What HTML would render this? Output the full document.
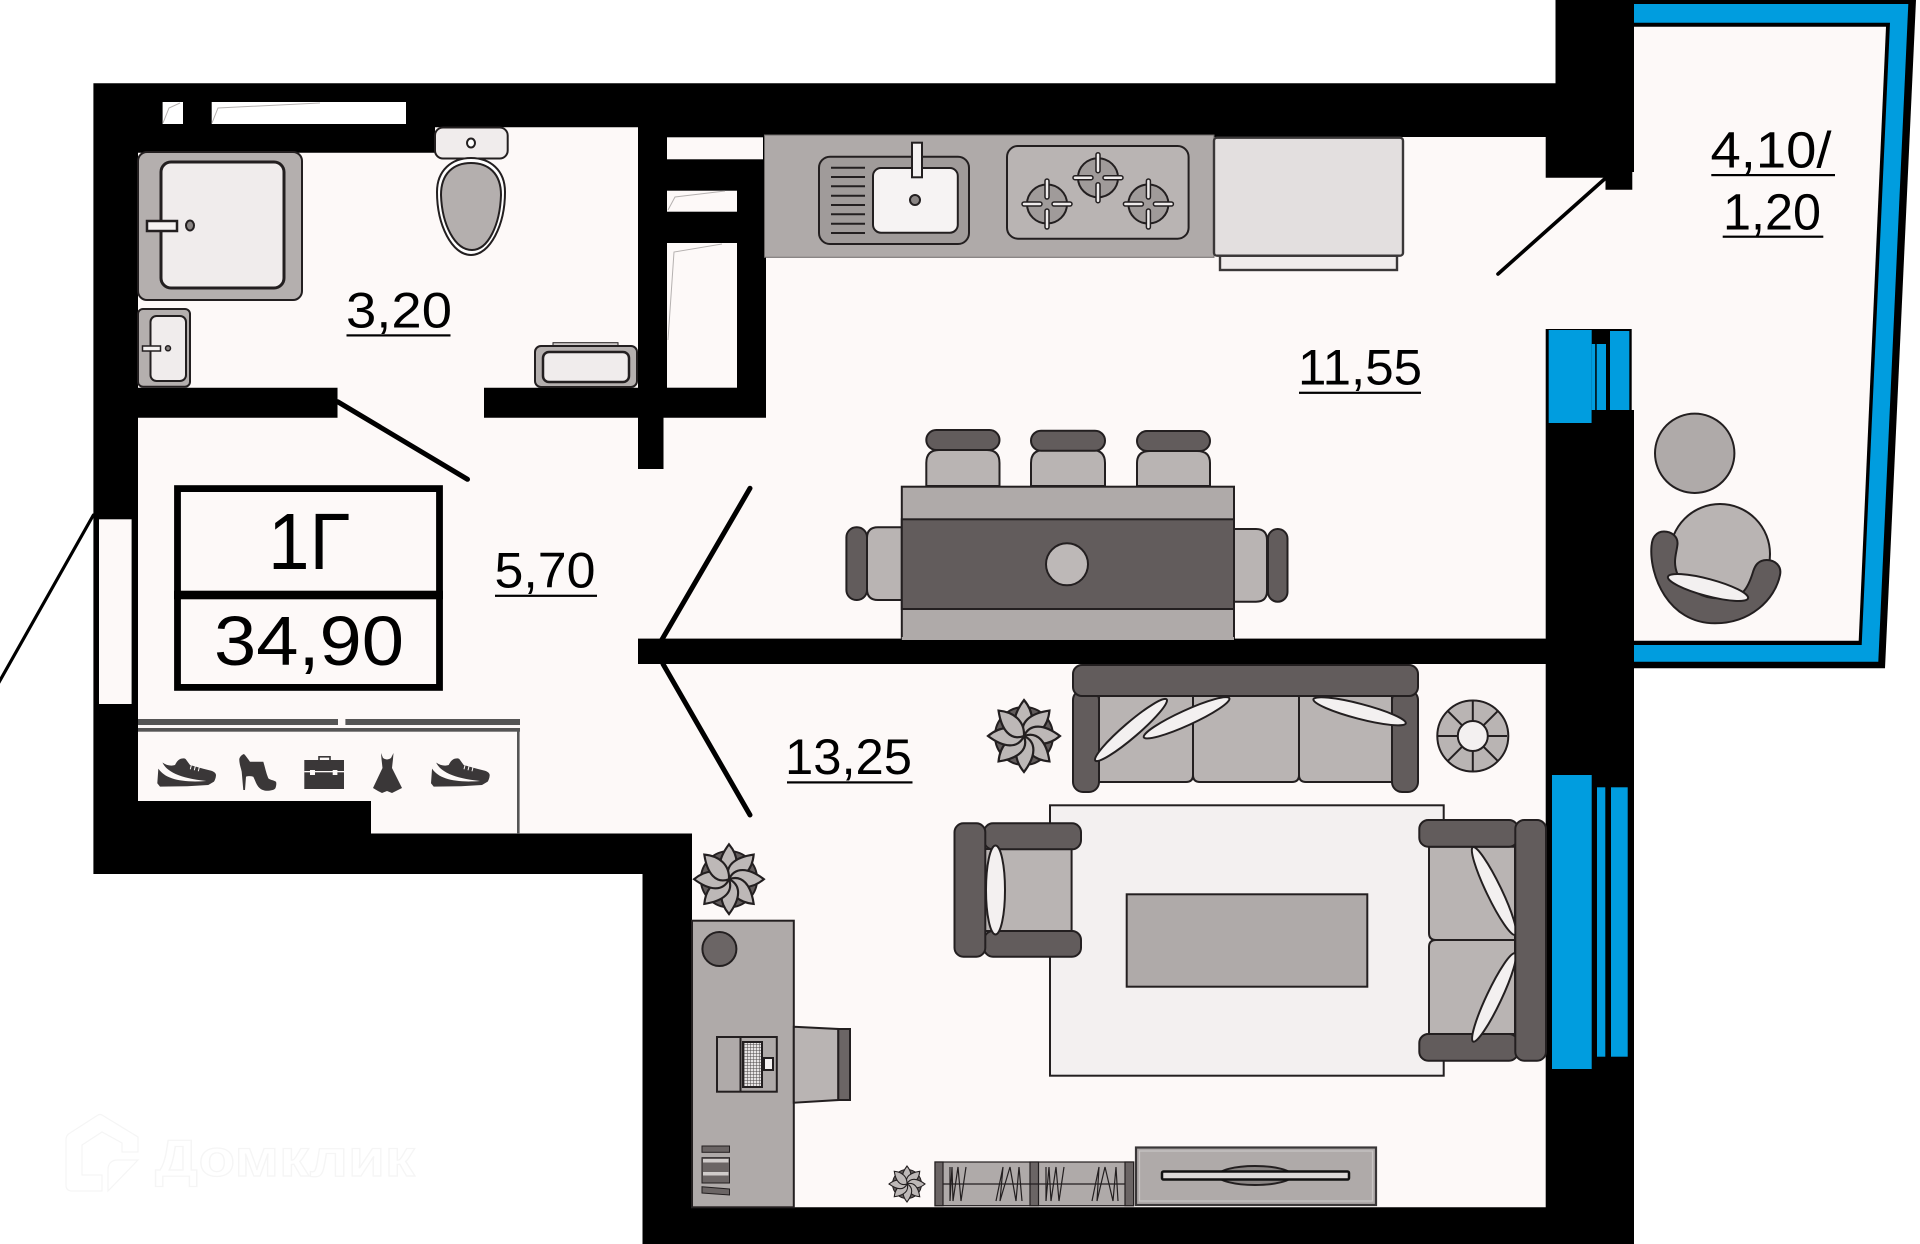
<!DOCTYPE html>
<html lang="ru"><head><meta charset="utf-8"><title>1Г 34,90</title>
<style>html,body{margin:0;padding:0;background:#fff;width:1920px;height:1244px;overflow:hidden}svg{display:block}text{font-family:"Liberation Sans",sans-serif;fill:#000}</style></head>
<body>
<svg xmlns="http://www.w3.org/2000/svg" width="1920" height="1244" viewBox="0 0 1920 1244">
<defs>
<g id="plant">
<circle r="29" fill="#625c5c" stroke="#231f20" stroke-width="2"/>
<g fill="#bdb8b7" stroke="#231f20" stroke-width="2.2" stroke-linejoin="miter">
<path id="pt" d="M0,0 C-13,-6 -12,-20 0,-36 C10,-24 11,-10 0,0Z"/>
<use href="#pt" transform="rotate(45)"/><use href="#pt" transform="rotate(90)"/><use href="#pt" transform="rotate(135)"/>
<use href="#pt" transform="rotate(180)"/><use href="#pt" transform="rotate(225)"/><use href="#pt" transform="rotate(270)"/><use href="#pt" transform="rotate(315)"/>
</g></g>
<g id="burner">
<ellipse rx="20" ry="19.5" fill="#a09b9a" stroke="#231f20" stroke-width="2"/>
<g fill="#efecec" stroke="#231f20" stroke-width="1.5">
<rect x="-2" y="-25" width="4" height="20" rx="2"/><rect x="-2" y="5" width="4" height="20" rx="2"/>
<rect x="-25" y="-2" width="20" height="4" rx="2"/><rect x="5" y="-2" width="20" height="4" rx="2"/></g>
</g>
<g id="sneaker">
<path fill="#3a3738" d="M5.3,4.3 C9,7 14,8 17.7,6.7 C19,4 21,1 24,0.3 C26,-0.2 28,0 28.5,1 L32.7,6.7 L46,10.5 L54,12.5 C57,13.5 58.7,15 58.7,17 C58.5,20 57.5,22 56.7,23.3 L51,26.7 L30,28 L2.7,28.3 L0,25 L1,11Z"/>
<path fill="#fdf9f8" d="M5,4 C9,13 22,20 49,22.7 C25,24.5 8,21 1.2,10.5 Z"/>
<path stroke="#fdf9f8" stroke-width="1" d="M34,7 L33,11M38,8 L37,12M42,9 L41,13"/>
</g>
<pattern id="kb" width="3" height="3" patternUnits="userSpaceOnUse"><rect width="3" height="3" fill="#e8e5e5"/><path d="M0,0H3M0,0V3" stroke="#4a4646" stroke-width="1"/></pattern>
</defs>

<rect width="1920" height="1244" fill="#fff"/>

<!-- balcony -->
<polygon points="1630,0 1916,0 1885,668.3 1630,668.3" fill="#000"/>
<polygon points="1630,4 1908.3,4 1878.3,661.7 1630,661.7" fill="#009ddf"/>
<polygon points="1630,22.7 1890,22.7 1861.7,645 1630,645" fill="#000"/>
<polygon points="1630,26.7 1886,26.7 1858.7,640.7 1630,640.7" fill="#fdf9f8"/>

<!-- main walls -->
<polygon points="93.4,83.3 1555.5,83.3 1555.5,0 1634,0 1634,1244 642.5,1244 642.5,874 93.4,874" fill="#000"/>

<!-- rooms -->
<g fill="#fdf9f8">
<polygon points="138,152.7 435,152.7 435,127.3 638,127.3 638,387.7 138,387.7"/>
<polygon points="138,417.7 337.6,417.7 337.6,387.7 484,387.7 484,417.7 638,417.7 638,469 663.5,469 663.5,417.7 766,417.7 766,137 1545.7,137 1545.7,177.7 1605.5,177.7 1605.5,189.7 1632.3,189.7 1632.3,172 1636,172 1636,329 1545.7,329 1545.7,638.7 638,638.7 638,664 1545.7,664 1545.7,1207.3 692,1207.3 692,833.5 371,833.5 371,801 138,801"/>
<rect x="337.6" y="380" width="146.4" height="42"/>
<rect x="99" y="519.3" width="32.6" height="184.7"/>
<rect x="667" y="137.3" width="96" height="22"/>
<rect x="667" y="190.7" width="70" height="21"/>
<rect x="667" y="243" width="70" height="144.7"/>
</g>
<rect x="162.6" y="102" width="20.4" height="22" fill="#fff"/>
<rect x="211.7" y="102" width="194.3" height="22" fill="#fff"/>
<g fill="none" stroke="#b5b1b0" stroke-width="1">
<path d="M163,123 L169,108 L180,103"/><path d="M212,123 L218,108 L320,103"/>
<path d="M668,210 L675,197 L725,191"/><path d="M668,340 L674,252 L722,244"/>
</g>

<!-- window kitchen/balcony -->
<rect x="1547.7" y="329" width="84" height="94" fill="#000"/>
<rect x="1631.7" y="329" width="4" height="81" fill="#fdf9f8"/>
<rect x="1548.7" y="330" width="43" height="93" fill="#009ddf"/>
<rect x="1591.7" y="344" width="3.5" height="66" fill="#009ddf"/>
<rect x="1596.7" y="344" width="9.3" height="66" fill="#009ddf"/>
<rect x="1610" y="331" width="19.3" height="79" fill="#009ddf"/>
<rect x="1591.7" y="410" width="42.3" height="14" fill="#000"/>

<!-- window living -->
<rect x="1552" y="775" width="39.7" height="294" fill="#009ddf"/>
<rect x="1597" y="787.3" width="8.3" height="269.4" fill="#009ddf"/>
<rect x="1611" y="787.3" width="16.7" height="269.4" fill="#009ddf"/>

<!-- doors -->
<g stroke="#000" fill="none" stroke-linecap="round">
<line x1="337.6" y1="401.7" x2="467.5" y2="479.3" stroke-width="5"/>
<line x1="750" y1="488.3" x2="661.7" y2="640" stroke-width="5"/>
<line x1="663" y1="664" x2="750" y2="815" stroke-width="5"/>
<line x1="1605" y1="178.6" x2="1498" y2="274" stroke-width="3.6"/>
<line x1="93.4" y1="515" x2="-2" y2="684" stroke-width="3.2"/>
</g>

<!-- balcony furniture -->
<g stroke="#231f20" stroke-width="2">
<circle cx="1694.7" cy="453.3" r="39.7" fill="#afaaa9"/>
<circle cx="1720" cy="554" r="50" fill="#b9b4b3"/>
<path d="M1664,531.5 C1656,531.5 1652,538 1651.5,546 C1649,575 1668,623.3 1715,623.3 C1750,623.3 1775,600 1780,575 C1782,566 1775,560 1766.7,560 C1758,560 1755,566 1753.3,571 C1750,582 1747,588 1743,592 C1730,598 1725,598 1715,598 C1700,595 1690,590 1685,587 C1678,578 1675,570 1675,562 C1675,555 1677,550 1677.5,544 C1678,536 1671,531.5 1664,531.5Z" fill="#625c5c"/>
<path d="M1692,590 C1705,600 1720,600 1730,596Z" fill="#b9b4b3" stroke-width="1.2"/>
<ellipse cx="1708" cy="587.5" rx="41.5" ry="8.5" transform="rotate(15 1708 587.5)" fill="#f3f0f0"/>
</g>

<!-- bath -->
<g stroke="#231f20" stroke-width="2">
<rect x="138" y="152" width="164" height="148" rx="9" fill="#b4afae"/>
<rect x="161" y="162" width="123" height="126" rx="10" fill="#f0ecec" stroke-width="3"/>
<rect x="147" y="221" width="30" height="10" fill="#f5f2f2" stroke-width="2.5"/>
<ellipse cx="190" cy="225.5" rx="4" ry="5" fill="#8a8584" stroke-width="2"/>
<rect x="138" y="309" width="52" height="77.7" rx="5" fill="#b4afae"/>
<rect x="150.5" y="316" width="35.5" height="65" rx="6" fill="#f0ecec"/>
<rect x="142.5" y="346" width="18" height="5" fill="#f5f2f2" stroke-width="1.5"/>
<circle cx="168" cy="348.3" r="2.5" fill="#8a8584" stroke-width="1.5"/>
<rect x="435" y="127.5" width="72.7" height="31" rx="8" fill="#f0ecec"/>
<ellipse cx="471" cy="143" rx="4" ry="4.5" fill="#fff"/>
<path d="M471,158 C490,158 505,170 505,192 C505,225 490,255 471,255 C452,255 437,225 437,192 C437,170 452,158 471,158Z" fill="#fff"/>
<path d="M471,163 C488,163 501,173 501,195 C500,225 488,250 472,250 C455,250 442,225 441,195 C441,173 454,163 471,163Z" fill="#b4afae" stroke-width="2"/>
<rect x="553" y="342.7" width="65" height="4" fill="#d0cccb" stroke-width="1"/>
<rect x="535" y="346" width="102" height="41" rx="6" fill="#b4afae"/>
<rect x="543" y="352" width="86" height="30" rx="6" fill="#f0ecec" stroke-width="2.5"/>
</g>

<!-- kitchen -->
<rect x="764.5" y="135" width="449.5" height="122.3" fill="#afaaa9" stroke="#6e6a69" stroke-width="1"/>
<g stroke="#231f20" stroke-width="2">
<rect x="819" y="156.7" width="150" height="87.3" rx="11" fill="#a09b9a"/>
<rect x="873" y="168" width="84.8" height="64.7" rx="8" fill="#f6f3f3"/>
<ellipse cx="915" cy="200" rx="5" ry="5" fill="#8a8584"/>
<rect x="912" y="142.7" width="10" height="34.6" fill="#f5f2f2"/>
<path d="M831,167.7H865M831,177H865M831,186.3H865M831,195.7H865M831,205H865M831,214.3H865M831,223.7H865M831,233H865" fill="none"/>
<rect x="1007" y="146" width="181.6" height="92.7" rx="11" fill="#b9b4b3"/>
</g>
<use href="#burner" x="1047" y="204"/><use href="#burner" x="1098" y="177.7"/><use href="#burner" x="1148.4" y="204"/>
<g stroke="#3a3738" stroke-width="2.4">
<rect x="1220" y="255.7" width="177" height="14.3" fill="#f0ecec"/>
<rect x="1214" y="137.7" width="189" height="118" rx="3" fill="#e3dfdf"/>
</g>

<!-- dining -->
<g stroke="#231f20" stroke-width="2">
<g fill="#b9b4b3">
<path d="M926.3,486 V463 Q926.3,450 939,450 H987 Q999.5,450 999.5,463 V486Z"/>
<path d="M1031,486 V463 Q1031,450 1044,450 H1092 Q1105,450 1105,463 V486Z"/>
<path d="M1137,486 V463 Q1137,451 1150,451 H1197 Q1210,451 1210,463 V486Z"/>
<path d="M902,527.3 H878 Q867,527.3 867,538 V589 Q867,600 878,600 H902Z"/>
<path d="M1234,529 H1256 Q1267,529 1267,540 V591 Q1267,601.7 1256,601.7 H1234Z"/>
</g>
<g fill="#625c5c">
<rect x="926.3" y="430" width="73.2" height="20" rx="10"/>
<rect x="1031" y="430.7" width="74" height="20" rx="10"/>
<rect x="1137" y="431" width="73" height="20" rx="10"/>
<rect x="846.4" y="527.3" width="20.6" height="72.7" rx="10"/>
<rect x="1268" y="529" width="19.5" height="72.7" rx="9.7"/>
</g>
<rect x="901.8" y="486.7" width="332.2" height="153" fill="#afaaa9"/>
<rect x="901.8" y="519.3" width="332.2" height="89.7" fill="#625c5c"/>
<circle cx="1067" cy="564.3" r="21" fill="#bdb8b7"/>
</g>

<!-- hall/living wall -->
<rect x="638" y="638.7" width="907.7" height="25.3" fill="#000"/>
<rect x="901.8" y="637" width="332.2" height="3" fill="#afaaa9"/>

<!-- rug + coffee -->
<g stroke="#231f20" stroke-width="2">
<rect x="1050" y="805.3" width="393.7" height="270.4" fill="#f3f0f0"/>
<rect x="1126.7" y="894.3" width="240.6" height="92.4" fill="#afaaa9"/>
<!-- sofa top -->
<path d="M1099,696 H1193 V775 Q1193,782 1186,782 H1099Z" fill="#b9b4b3"/>
<path d="M1193,696 H1299 V775 Q1299,782 1292,782 H1200 Q1193,782 1193,775Z" fill="#b9b4b3"/>
<path d="M1299,696 H1392 V782 H1306 Q1299,782 1299,775Z" fill="#b9b4b3"/>
<rect x="1073" y="690" width="26" height="102" rx="10" fill="#625c5c"/>
<rect x="1392" y="690" width="26" height="102" rx="10" fill="#625c5c"/>
<rect x="1073" y="665" width="345" height="31" rx="9" fill="#625c5c"/>
<ellipse cx="1131" cy="730" rx="47" ry="7.5" transform="rotate(-40.6 1131 730)" fill="#f3f0f0"/>
<ellipse cx="1186.6" cy="717.8" rx="47" ry="7.5" transform="rotate(-24.5 1186.6 717.8)" fill="#f3f0f0"/>
<ellipse cx="1359.6" cy="711.3" rx="47.7" ry="7.5" transform="rotate(14.6 1359.6 711.3)" fill="#f3f0f0"/>
<!-- roundel -->
<circle cx="1472.8" cy="736" r="35.5" fill="#b9b4b3"/>
<path d="M1437.3,736H1507M1472.8,700.5V771.5M1447.7,710.9L1497.9,761.1M1497.9,710.9L1447.7,761.1" fill="none"/>
<circle cx="1472.8" cy="736" r="15" fill="#f3f0f0"/>
<!-- armchair left -->
<rect x="985" y="849" width="86.6" height="82" fill="#b9b4b3"/>
<rect x="984" y="823.3" width="97" height="26" rx="9" fill="#625c5c"/>
<rect x="984" y="931" width="97" height="25.7" rx="9" fill="#625c5c"/>
<rect x="954.5" y="823.3" width="30.8" height="133.4" rx="9" fill="#625c5c"/>
<ellipse cx="995.5" cy="890" rx="9.5" ry="44.5" fill="#f3f0f0"/>
<!-- sofa right -->
<path d="M1429,846.7 H1515 V940 H1436 Q1429,940 1429,933Z" fill="#b9b4b3"/>
<path d="M1436,940 H1515 V1034 H1429 V947 Q1429,940 1436,940Z" fill="#b9b4b3"/>
<rect x="1419.3" y="820" width="98.7" height="26.7" rx="9" fill="#625c5c"/>
<rect x="1419.3" y="1034" width="98.7" height="26.7" rx="9" fill="#625c5c"/>
<ellipse cx="1494" cy="891" rx="48.7" ry="7.5" transform="rotate(64.3 1494 891)" fill="#f3f0f0"/>
<ellipse cx="1494" cy="997.5" rx="48.8" ry="7.5" transform="rotate(-64.7 1494 997.5)" fill="#f3f0f0"/>
<rect x="1515.3" y="820" width="30.7" height="240.7" rx="9" fill="#625c5c"/>
</g>

<!-- desk -->
<g stroke="#231f20" stroke-width="2">
<rect x="692" y="920.7" width="101.8" height="286.6" fill="#afaaa9"/>
<circle cx="719.4" cy="949" r="17" fill="#6b6565"/>
<polygon points="793.8,1026.7 838.3,1029 838.3,1100 793.8,1102.7" fill="#b9b4b3"/>
<rect x="838.3" y="1029" width="11.7" height="71" fill="#6b6565"/>
<rect x="717" y="1037" width="59.8" height="54.7" fill="#afaaa9"/>
<line x1="740.5" y1="1037" x2="740.5" y2="1091.7"/>
<rect x="743" y="1042" width="19" height="45" fill="url(#kb)"/>
<rect x="764" y="1058" width="9" height="12" fill="#f5f2f2"/>
</g>
<g fill="#6b6565" stroke="#231f20" stroke-width="1">
<rect x="702" y="1146" width="27.5" height="6.3"/>
<rect x="702" y="1157.7" width="27.5" height="25.3"/>
<polygon points="702,1186.7 729.5,1189 729.5,1195 702,1193"/>
</g>
<g fill="#d0cccb"><rect x="703" y="1159" width="25.5" height="3.5"/><rect x="703" y="1172" width="25.5" height="3.5"/></g>

<!-- plants -->
<use href="#plant" transform="translate(1024 736)"/>
<use href="#plant" transform="translate(729 879.2) scale(.97)"/>
<use href="#plant" transform="translate(907 1184) scale(.5)"/>

<!-- shelf -->
<g stroke="#231f20" stroke-width="1.2">
<rect x="935" y="1162" width="198.6" height="43.7" fill="#afaaa9"/>
<g fill="#6b6565"><rect x="935" y="1162" width="8" height="43.7"/><rect x="1030" y="1162" width="8.5" height="43.7"/><rect x="1125" y="1162" width="8.6" height="43.7"/></g>
<line x1="943" y1="1184" x2="1125" y2="1184"/>
<path d="M950,1167V1201L952,1167L953,1201L958,1167L961,1201L966,1167M996,1201L1003,1167L1000,1201L1010,1167L1016,1201L1019,1167L1022,1201M1046,1167V1201L1049,1167L1051,1201L1056,1167L1059,1201L1064,1167M1092,1201L1099,1167L1097,1201L1105,1167L1113,1201L1116,1167L1118,1201" fill="none"/>
</g>
<rect x="1136" y="1147.5" width="240" height="57.5" fill="#afaaa9" stroke="#3a3738" stroke-width="2.2"/>
<rect x="1139.5" y="1151" width="233" height="50" fill="none" stroke="#c9c6c5" stroke-width="1.2"/>
<ellipse cx="1255" cy="1175.5" rx="37" ry="9.5" fill="#8a8584" stroke="#231f20" stroke-width="2"/>
<rect x="1162" y="1171.5" width="187" height="8" rx="1.5" fill="#dcd9d8" stroke="#111" stroke-width="2.5"/>

<!-- hall shelf -->
<g fill="#555">
<rect x="138" y="719" width="200" height="6"/><rect x="345.4" y="719" width="174.6" height="6"/>
<rect x="138" y="728" width="382" height="3.7"/><rect x="517" y="728" width="2.6" height="106"/>
</g>
<use href="#sneaker" x="157.3" y="758.3"/><use href="#sneaker" x="431" y="758.3"/>
<path fill="#3a3738" d="M244,754 C241,755 239,758 239.3,760 C239.5,765 241,768 241.7,771.7 L243.3,790 L245,790 L246,776.7 C248,776 251,776 253.3,776.7 C255,780 256,784 258.3,786.7 C261,790 265,791 268.3,790.7 C272,790.5 275,789.5 275.5,788 C276.5,785 276.5,783 276,781.7 C273,780 270,780 268.3,778.3 C266,773 265,767 263.3,761.7 L250,761.7 C248,759 246,756 244,754Z"/>
<g fill="#3a3738">
<rect x="304.3" y="760" width="39.7" height="29"/>
<rect x="319" y="756.8" width="11" height="4" fill="none" stroke="#3a3738" stroke-width="1.6"/>
<path d="M381,753 L383,758 Q387,761 391,758 L393.5,753 L393,759 L392,768 L402,788 L396,791 L392,793 L387,791 L382,793 L378,791 L373,788 L382.5,768 L381.5,759Z"/>
</g>
<g fill="#fdf9f8"><rect x="304.3" y="771" width="39.7" height="1.3"/><rect x="310" y="770" width="5" height="5"/><rect x="332.7" y="770" width="4.7" height="5"/></g>

<!-- label box -->
<rect x="177.5" y="488.6" width="262" height="198.8" fill="none" stroke="#000" stroke-width="6.8"/>
<rect x="174" y="590.7" width="269" height="8.6" fill="#000"/>
<text x="268" y="569" font-size="80" textLength="82" lengthAdjust="spacingAndGlyphs">1Г</text>
<text x="214" y="665" font-size="70" textLength="190" lengthAdjust="spacingAndGlyphs">34,90</text>

<!-- area labels -->
<g font-size="50">
<text x="346" y="327.3" textLength="106" lengthAdjust="spacingAndGlyphs">3,20</text>
<text x="494.5" y="587.3" textLength="101" lengthAdjust="spacingAndGlyphs">5,70</text>
<text x="1298" y="384.5" textLength="124" lengthAdjust="spacingAndGlyphs">11,55</text>
<text x="785" y="774" textLength="127" lengthAdjust="spacingAndGlyphs">13,25</text>
<text x="1710.5" y="167.7" font-size="51" textLength="121" lengthAdjust="spacingAndGlyphs">4,10/</text>
<text x="1723" y="229.3" font-size="51" textLength="98" lengthAdjust="spacingAndGlyphs">1,20</text>
</g>
<g fill="#000">
<rect x="346.5" y="334.3" width="104" height="2.2"/>
<rect x="495" y="594.7" width="102" height="2.2"/>
<rect x="1299" y="391.7" width="122" height="2.2"/>
<rect x="787" y="781.3" width="125.5" height="2.2"/>
<rect x="1711.3" y="174" width="123.7" height="2.2"/>
<rect x="1722.7" y="235.6" width="100.6" height="2.2"/>
</g>

<!-- watermark -->
<g fill="#fff" stroke="#f5f5f5" stroke-width="1.2">
<path d="M102,1115 L138,1137 V1152 H122 V1143 L102,1132 L82,1145 V1175 H102 V1191 H72 Q66,1191 66,1185 V1140 Q66,1135 70,1133 L98,1115 Q100,1114 102,1115Z"/>
<path d="M108,1191 V1170 Q108,1160 118,1160 H138Z"/>
<text x="155" y="1176" font-size="52" font-weight="bold" textLength="260" lengthAdjust="spacingAndGlyphs" style="fill:#fff">Домклик</text>
</g>
</svg>
</body></html>
